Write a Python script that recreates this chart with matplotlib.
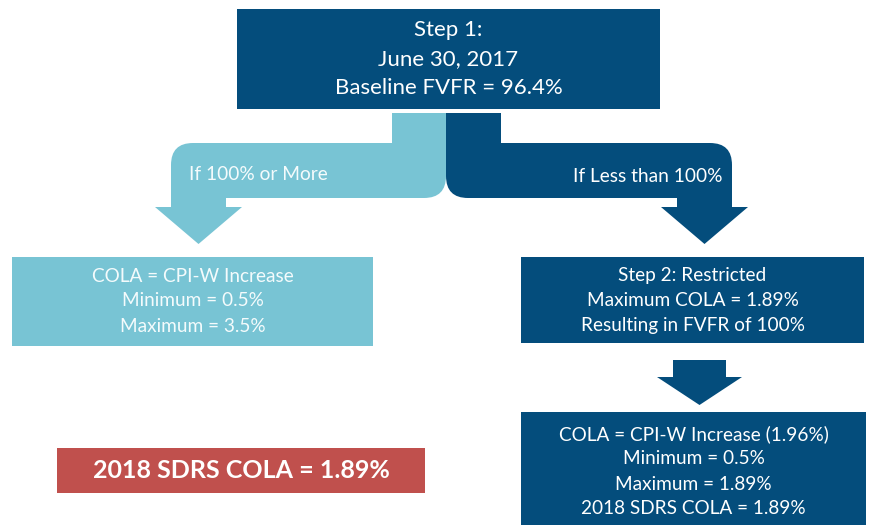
import matplotlib
matplotlib.use("Agg")
import matplotlib.pyplot as plt
import matplotlib.patches as patches
from matplotlib.path import Path

DARK = "#044d7c"
LIGHT = "#78c4d4"
RED = "#c0504d"

# box texts
step1_lines = ["Step 1:", "June 30, 2017", "Baseline FVFR = 96.4%"]
left_lines = ["COLA = CPI-W Increase", "Minimum = 0.5%", "Maximum = 3.5%"]
step2_lines = ["Step 2: Restricted", "Maximum COLA = 1.89%", "Resulting in FVFR of 100%"]
final_lines = ["COLA = CPI-W Increase (1.96%)", "Minimum = 0.5%", "Maximum = 1.89%",
               "2018 SDRS COLA = 1.89%"]
result_label = "2018 SDRS COLA = 1.89%"
branch_labels = ["If 100% or More", "If Less than 100%"]

plt.rcParams['font.family'] = ['Lato', 'DejaVu Sans']

fig = plt.figure(figsize=(8.72, 5.25), dpi=100)
ax = fig.add_axes([0, 0, 1, 1])
ax.set_xlim(0, 872)
ax.set_ylim(525, 0)
ax.axis('off')


def box(x0, y0, x1, y1, color):
    ax.add_patch(patches.Rectangle((x0, y0), x1 - x0, y1 - y0, facecolor=color,
                                   edgecolor='none'))


def lines(xc, ys, texts, size, color='white', weight='normal'):
    for y, t in zip(ys, texts):
        ax.text(xc, y, t, ha='center', va='center', fontsize=size, color=color,
                weight=weight)


def rounded_path(pts, color):
    # pts: list of (kind, point); 'Q' points are quadratic corner segments
    verts, codes = [], []
    for i, (k, p) in enumerate(pts):
        verts.append(p)
        if i == 0:
            codes.append(Path.MOVETO)
        elif k == 'Q':
            codes.append(Path.CURVE3)
        else:
            codes.append(Path.LINETO)
    verts.append(pts[0][1])
    codes.append(Path.CLOSEPOLY)
    ax.add_patch(patches.PathPatch(Path(verts, codes), facecolor=color,
                                   edgecolor='none'))


r = 22
# left branch arrow
rounded_path([
    ('L', (392, 113)), ('L', (446, 113)), ('L', (446, 198 - r)),
    ('Q', (446, 198)), ('Q', (446 - r, 198)),
    ('L', (226, 198)), ('L', (226, 207)), ('L', (242, 207)), ('L', (198.5, 244)),
    ('L', (155, 207)), ('L', (171, 207)), ('L', (171, 143 + r)),
    ('Q', (171, 143)), ('Q', (171 + r, 143)), ('L', (392, 143)),
], LIGHT)

# right branch arrow
rounded_path([
    ('L', (446, 113)), ('L', (501, 113)), ('L', (501, 143)), ('L', (732 - r, 143)),
    ('Q', (732, 143)), ('Q', (732, 143 + r)),
    ('L', (732, 207)), ('L', (748, 207)), ('L', (704.5, 244)), ('L', (661, 207)),
    ('L', (677, 207)), ('L', (677, 198)), ('L', (446 + r, 198)),
    ('Q', (446, 198)), ('Q', (446, 198 - r)),
], DARK)

# small down arrow between step 2 and final box
rounded_path([
    ('L', (673, 360)), ('L', (726, 360)), ('L', (726, 377)), ('L', (742, 377)),
    ('L', (699.5, 405)), ('L', (657, 377)), ('L', (673, 377)),
], DARK)

box(237, 9, 660, 109, DARK)
box(12, 257, 373, 346, LIGHT)
box(521, 257, 864, 343, DARK)
box(521, 412, 866, 525, DARK)
box(57, 448, 425, 493, RED)

lines(448.5, [30, 59, 88], step1_lines, 16)
lines(192.5, [276, 301, 326], left_lines, 13.7, color='#f4fbfc')
lines(692.5, [276, 301, 326], step2_lines, 13.7)
lines(693.5, [434, 459, 484, 509], final_lines, 13.7)
lines(241, [470], [result_label], 18, weight='bold')

ax.text(189, 175, branch_labels[0], ha='left', va='center', fontsize=13.8,
        color='#f4fbfc')
ax.text(722, 176, branch_labels[1], ha='right', va='center', fontsize=13.8,
        color='white')

fig.savefig("out.png", dpi=100)
